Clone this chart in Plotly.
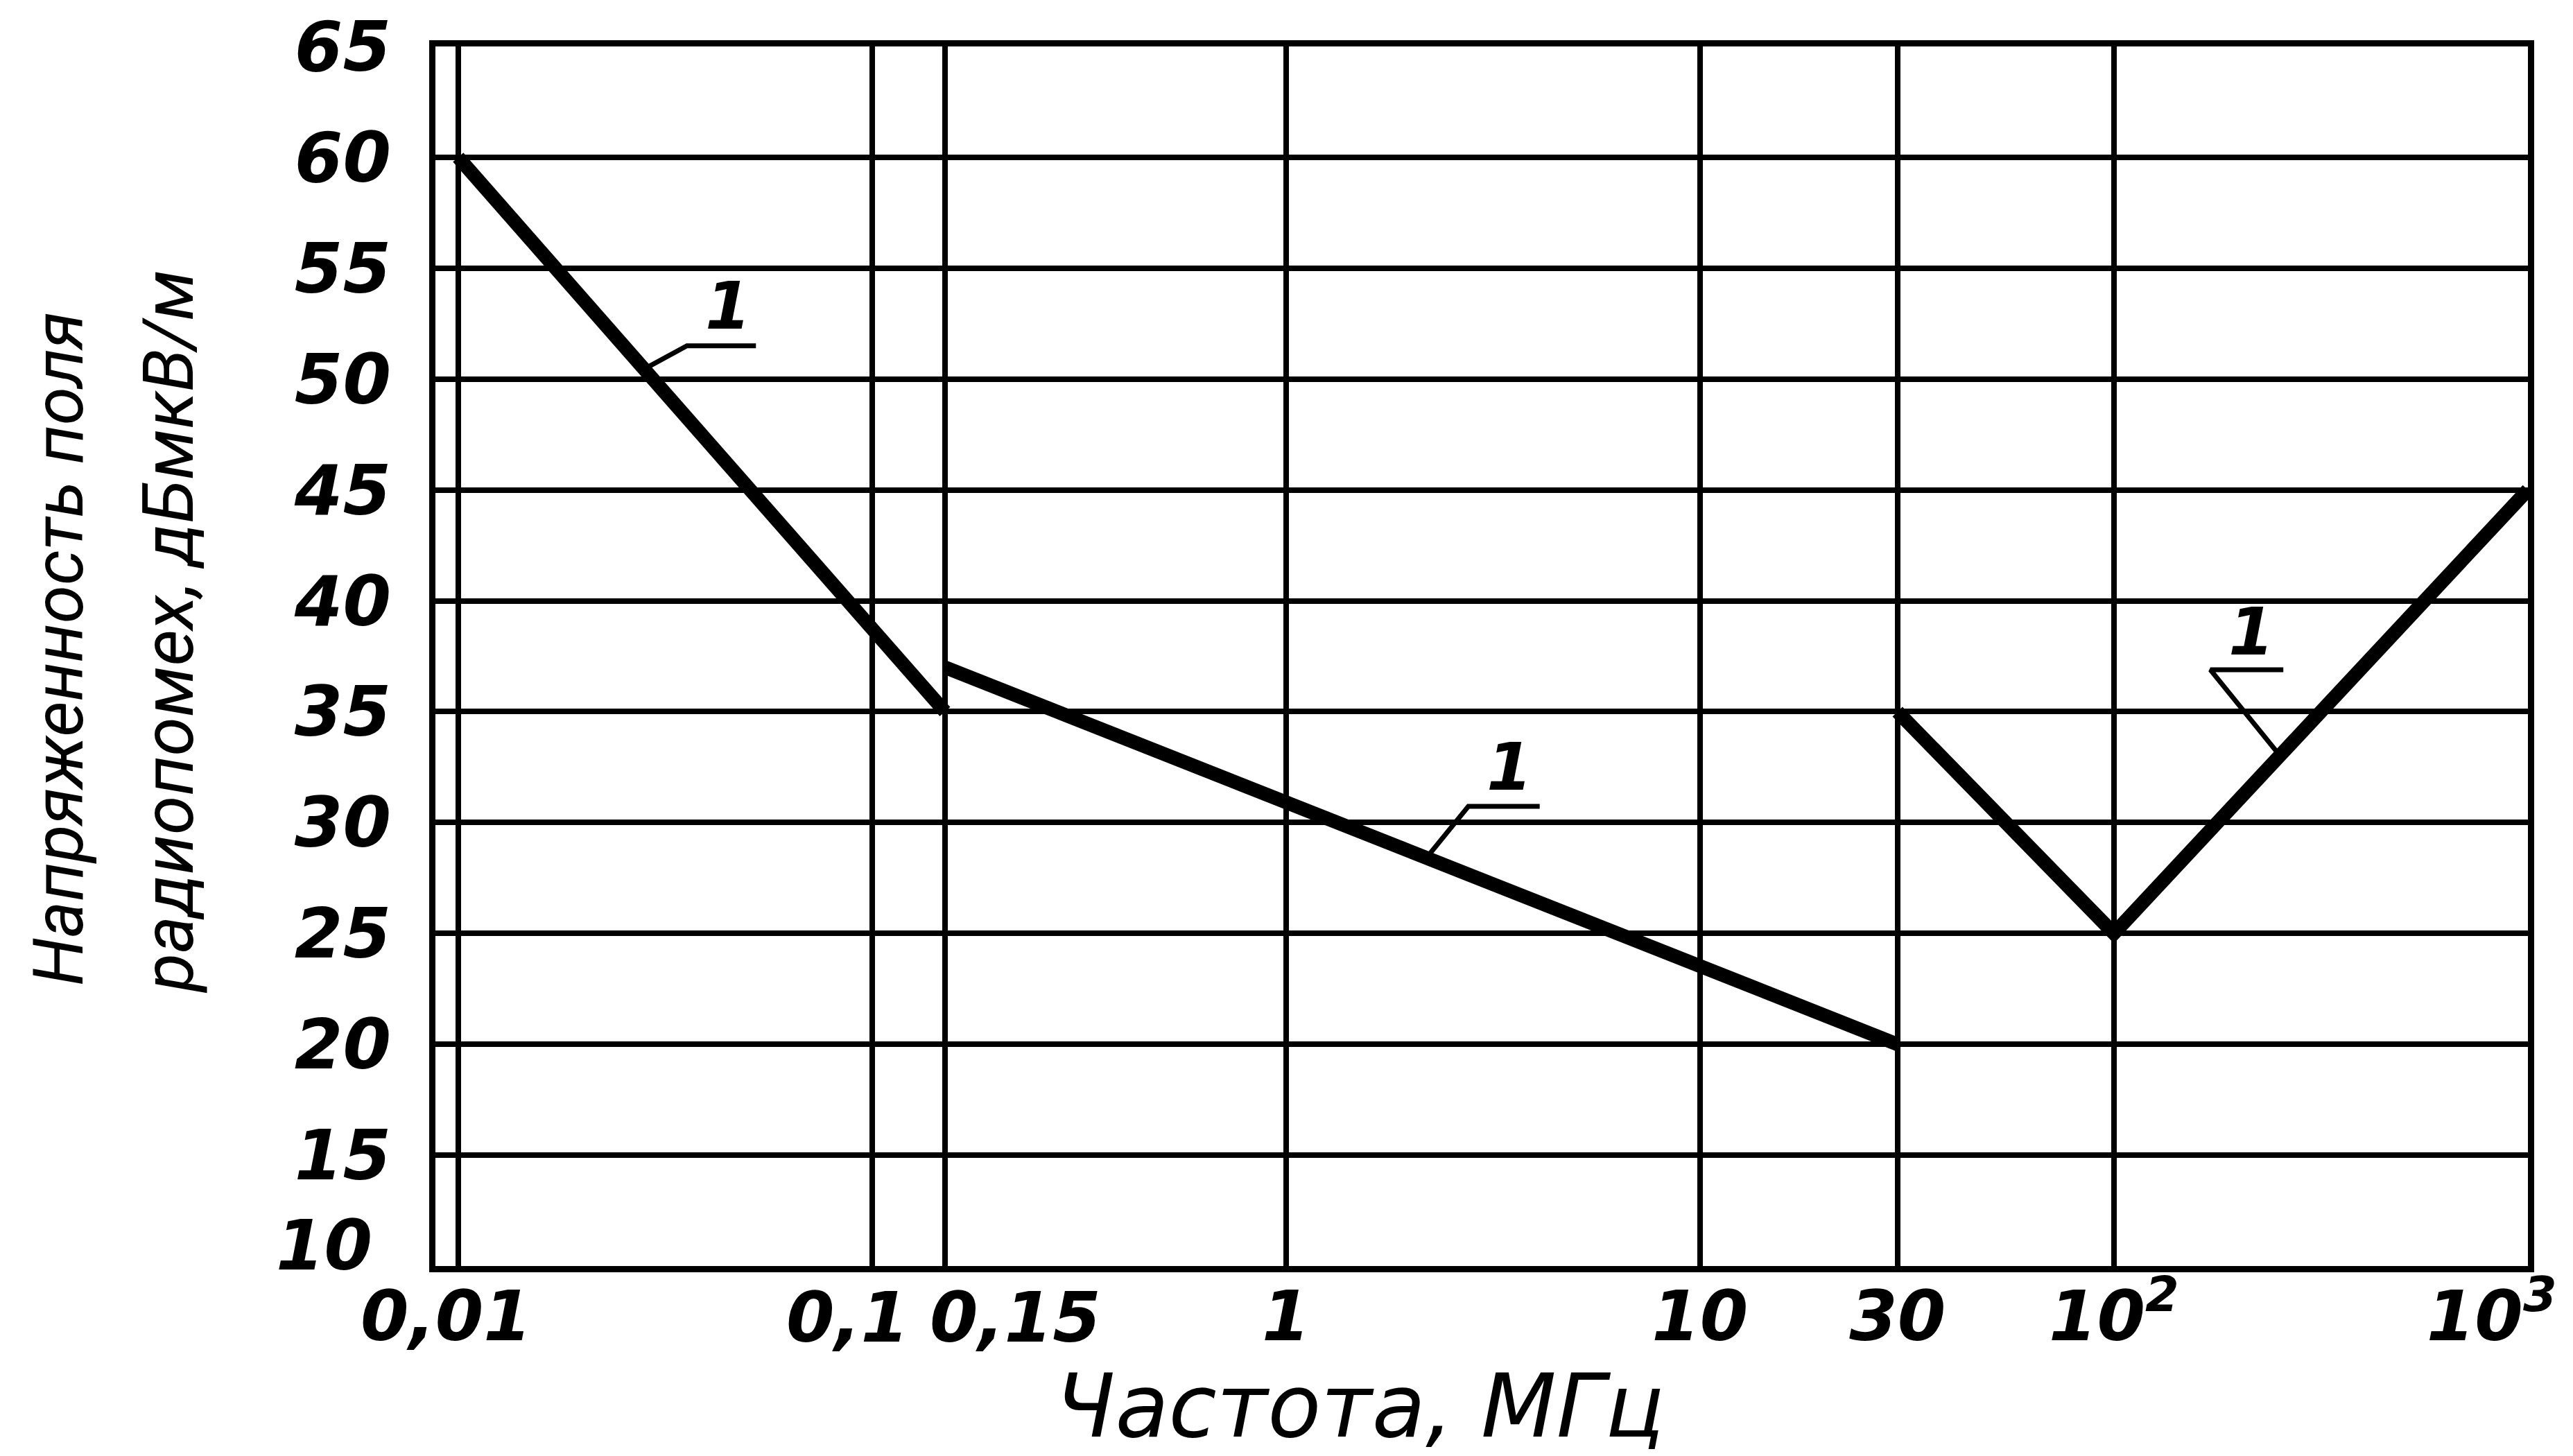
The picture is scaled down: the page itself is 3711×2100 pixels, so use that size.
import math
import plotly.graph_objects as go

# ---- data (frequency in MHz, level in dBuV/m) ----
freq_seg1 = [0.01, 0.15]
level_seg1 = [60, 35]
freq_seg2 = [0.15, 30]
level_seg2 = [37, 20]
freq_seg3 = [30, 100, 1000]
level_seg3 = [35, 25, 45]

x_tickvals = [0.01, 1, 10, 30, 100, 1000]
x_ticktext = ["0,01\u00a0", "1", "10", "30", "10<sup>2</sup>", "10<sup>3</sup>\u00a0\u00a0\u00a0"]
# crowded tick labels placed beside their grid lines (value, text, horizontal shift px)
x_side_vals = [0.1, 0.15]
x_side_text = ["0,1", "0,15"]
x_side_shift = [-35, 102]

y_tickvals = [15, 20, 25, 30, 35, 40, 45, 50, 55, 60, 65]
y_ticktext = [str(v) for v in y_tickvals]
y_side_val = 10
y_side_text = "10"

# callout "1" labels: text position, underline ends, leader end on the curve
label_text = ["1", "1", "1"]
label_x = [0.0449, 3.47, 215]
label_y = [53.3, 32.5, 38.6]
underline_x0 = [0.0357, 2.757, 171]
underline_x1 = [0.0524, 4.10, 256.6]
underline_y = [51.5, 30.73, 36.89]
leader_x = [0.02857, 2.213, 248]
leader_y = [50.52, 28.54, 33.17]

x_title = "Частота, МГц"
y_title_1 = "Напряженность поля"
y_title_2 = "радиопомех, дБмкВ/м"

FONT = "DejaVu Sans"
TITLE_FONT = "Roboto"
BLACK = "#000000"
TICKFONT = dict(family=FONT, size=100, color=BLACK, style="italic", weight="bold")

fig = go.Figure()

for fx, fy in [(freq_seg1, level_seg1), (freq_seg2, level_seg2), (freq_seg3, level_seg3)]:
    fig.add_trace(go.Scatter(x=fx, y=fy, mode="lines",
                             line=dict(color=BLACK, width=20),
                             showlegend=False, hoverinfo="skip"))

for i in range(len(label_text)):
    fig.add_trace(go.Scatter(
        x=[underline_x1[i], underline_x0[i], leader_x[i]],
        y=[underline_y[i], underline_y[i], leader_y[i]],
        mode="lines", line=dict(color=BLACK, width=7),
        showlegend=False, hoverinfo="skip"))
    fig.add_annotation(x=math.log10(label_x[i]), y=label_y[i], xref="x", yref="y",
                       text=label_text[i], showarrow=False,
                       font=dict(family=FONT, size=95, color=BLACK, style="italic",
                                 weight="bold"))

# side-shifted tick labels
for v, t, s in zip(x_side_vals, x_side_text, x_side_shift):
    fig.add_annotation(x=math.log10(v), y=-0.0426, xref="x", yref="paper", text=t,
                       showarrow=False, xanchor="center", yanchor="middle", xshift=s,
                       borderpad=0, font=TICKFONT)
fig.add_annotation(x=0, y=y_side_val, xref="paper", yref="y", text=y_side_text,
                   showarrow=False, xanchor="right", yanchor="middle",
                   xshift=-90, yshift=30, borderpad=0, font=TICKFONT)

# axis titles as annotations
fig.add_annotation(x=0.4417, y=-0.115, xref="paper", yref="paper", text=x_title,
                   showarrow=False, xanchor="center", yanchor="middle", borderpad=0,
                   font=dict(family=FONT, size=126, color=BLACK, style="italic"))
fig.add_annotation(x=-0.180, y=0.506, xref="paper", yref="paper", text=y_title_1,
                   showarrow=False, textangle=-90, xanchor="center", yanchor="middle",
                   font=dict(family=TITLE_FONT, size=100, color=BLACK, style="italic"))
fig.add_annotation(x=-0.1276, y=0.520, xref="paper", yref="paper", text=y_title_2,
                   showarrow=False, textangle=-90, xanchor="center", yanchor="middle",
                   font=dict(family=TITLE_FONT, size=102, color=BLACK, style="italic"))

fig.update_layout(
    width=3711, height=2100,
    margin=dict(l=620, r=73, t=59, b=282, pad=0),
    paper_bgcolor="white", plot_bgcolor="white",
    showlegend=False,
    font=dict(family=FONT, color=BLACK),
)
fig.update_xaxes(
    type="log", range=[-2.055, 3.0002],
    tickmode="array", tickvals=x_tickvals, ticktext=x_ticktext,
    showgrid=True, gridcolor=BLACK, gridwidth=8,
    minor=dict(tickmode="array", tickvals=x_side_vals, showgrid=True,
               gridcolor=BLACK, gridwidth=8, ticks=""),
    showline=True, linecolor=BLACK, linewidth=9, mirror=True,
    ticks="", ticklabelstandoff=-22, tickangle=0, automargin=False,
    ticklabeloverflow="allow",
    tickfont=TICKFONT,
    zeroline=False,
)
fig.update_yaxes(
    range=[10, 65],
    tickmode="array", tickvals=y_tickvals, ticktext=y_ticktext,
    showgrid=True, gridcolor=BLACK, gridwidth=8,
    showline=True, linecolor=BLACK, linewidth=9, mirror=True,
    ticks="", ticklabelstandoff=35, automargin=False,
    ticklabeloverflow="allow",
    tickfont=TICKFONT,
    zeroline=False,
)

fig.write_html("out.html")
